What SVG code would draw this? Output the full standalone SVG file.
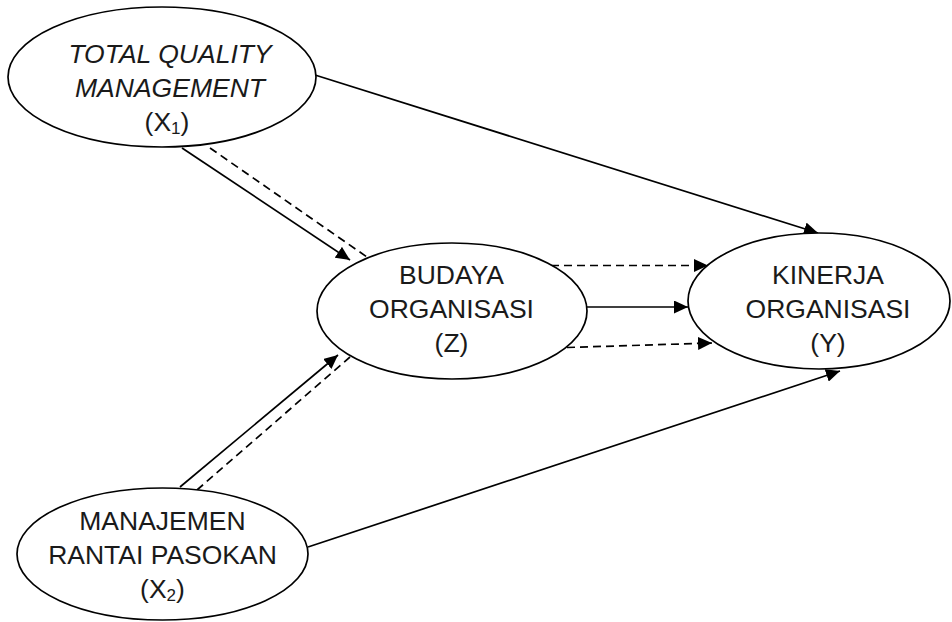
<svg xmlns="http://www.w3.org/2000/svg" width="952" height="622" viewBox="0 0 952 622">
<style>
.node ellipse{fill:#fff;stroke:#000;stroke-width:1.7}
.node text{font-family:"Liberation Sans",Arial,sans-serif;font-size:26.5px;fill:#1a1a1a;text-anchor:middle}
.sub{font-size:17px}
.c line{stroke:#000;stroke-width:1.7;fill:none}
.dash{stroke-dasharray:8 5}
</style>
<defs>
<marker id="ah" markerUnits="userSpaceOnUse" markerWidth="14" markerHeight="13" refX="14" refY="6.5" orient="auto">
<path d="M0,0 L14,6.5 L0,13 Z" fill="#000"/>
</marker>
</defs>
<g class="c" id="connectors">
<line x1="315" y1="75" x2="818" y2="233" marker-end="url(#ah)"/>
<line x1="182" y1="148" x2="350" y2="260" marker-end="url(#ah)"/>
<line class="dash" x1="210" y1="148" x2="367" y2="257"/>
<line x1="180" y1="487" x2="338" y2="355" marker-end="url(#ah)"/>
<line class="dash" x1="197" y1="490" x2="350" y2="357"/>
<line x1="587" y1="307" x2="688" y2="307" marker-end="url(#ah)"/>
<line class="dash" x1="551" y1="265.5" x2="708" y2="265.5" marker-end="url(#ah)"/>
<line class="dash" x1="567" y1="347.5" x2="712" y2="343" marker-end="url(#ah)"/>
<line x1="308" y1="547" x2="840" y2="371" marker-end="url(#ah)"/>
</g>
<g class="node" id="x1">
<ellipse cx="162" cy="77" rx="154" ry="70"/>
<text x="170" y="63" font-style="italic">TOTAL QUALITY</text>
<text x="170" y="97" font-style="italic">MANAGEMENT</text>
<text x="167" y="131">(X<tspan class="sub" dy="3">1</tspan><tspan dy="-3">)</tspan></text>
</g>
<g class="node" id="x2">
<ellipse cx="162.5" cy="554" rx="145.5" ry="66"/>
<text x="162.5" y="530">MANAJEMEN</text>
<text x="162.5" y="564">RANTAI PASOKAN</text>
<text x="162.5" y="598">(X<tspan class="sub" dy="3">2</tspan><tspan dy="-3">)</tspan></text>
</g>
<g class="node" id="z">
<ellipse cx="452" cy="311" rx="135" ry="68"/>
<text x="451.5" y="284">BUDAYA</text>
<text x="451.5" y="318">ORGANISASI</text>
<text x="451.5" y="352">(Z)</text>
</g>
<g class="node" id="y">
<ellipse cx="819" cy="301" rx="131" ry="68"/>
<text x="828" y="284">KINERJA</text>
<text x="828" y="318">ORGANISASI</text>
<text x="828" y="352">(Y)</text>
</g>
</svg>
